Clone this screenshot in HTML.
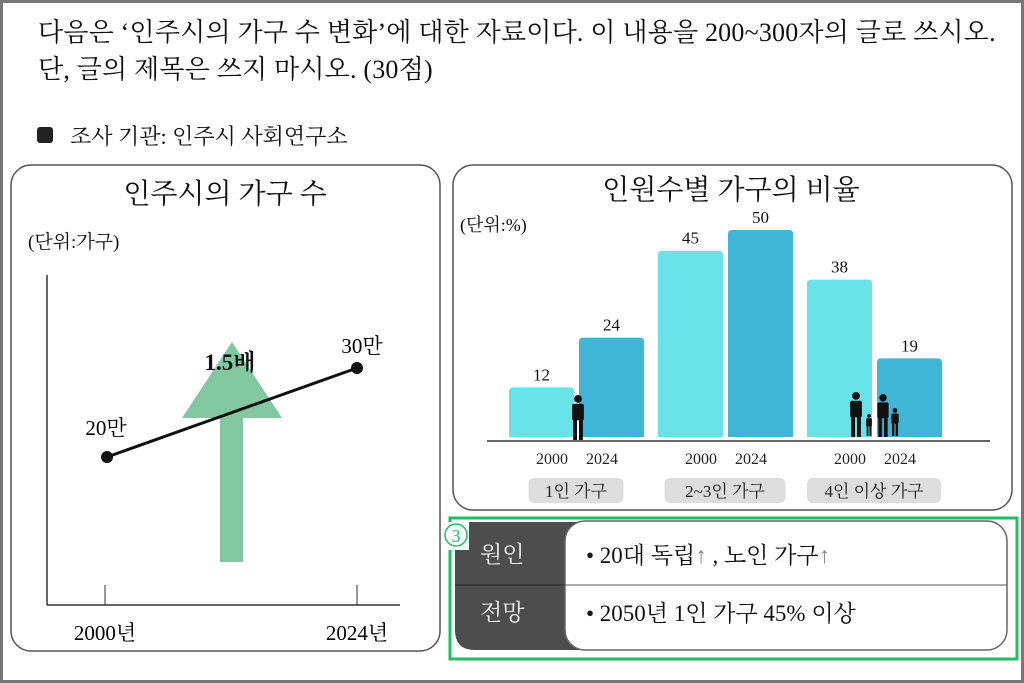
<!DOCTYPE html>
<html><head><meta charset="utf-8"><style>
body{margin:0;width:1024px;height:683px;overflow:hidden;background:#fff;font-family:"Liberation Serif","Noto Serif CJK KR","Noto Serif CJK SC",serif;}
#frame{position:absolute;left:0;top:0;width:1018px;height:677px;border:3px solid #777;}
.t{position:absolute;white-space:nowrap;color:#111;}
</style></head><body>
<div id="frame"></div>
<div class="t" style="left:38px;top:14px;font-size:26px;line-height:37px;letter-spacing:0.2px;">다음은 ‘인주시의 가구 수 변화’에 대한 자료이다. 이 내용을 200~300자의 글로 쓰시오.<br>단, 글의 제목은 쓰지 마시오. (30점)</div>
<div style="position:absolute;left:37px;top:127px;width:16px;height:16px;background:#222;border-radius:3px;"></div>
<div class="t" style="left:70px;top:120px;font-size:22px;">조사 기관: 인주시 사회연구소</div>

<svg width="1024" height="683" style="position:absolute;left:0;top:0" font-family="Liberation Serif, Noto Serif CJK KR, Noto Serif CJK SC, serif">
<g>
<rect x="11" y="165" width="429" height="486" rx="20" fill="#fff" stroke="#555" stroke-width="1.5"/>
<text x="225" y="203" font-size="28" text-anchor="middle" fill="#111">인주시의 가구 수</text>
<text x="28" y="248" font-size="19" fill="#111">(단위:가구)</text>
<line x1="47" y1="275" x2="47" y2="605" stroke="#333" stroke-width="1.5"/>
<line x1="47" y1="605" x2="400" y2="605" stroke="#333" stroke-width="1.5"/>
<line x1="105" y1="585" x2="105" y2="605" stroke="#333"/>
<line x1="357" y1="585" x2="357" y2="605" stroke="#333"/>
<text x="105" y="640" font-size="21" text-anchor="middle">2000년</text>
<text x="357" y="640" font-size="21" text-anchor="middle">2024년</text>
<polygon points="220,562 243,562 243,418 282,418 232,342 182,418 220,418" fill="#82c7a0"/>
<text x="230" y="370" font-size="23" font-weight="bold" text-anchor="middle" fill="#111">1.5배</text>
<line x1="107" y1="457" x2="357" y2="368" stroke="#111" stroke-width="3"/>
<circle cx="107" cy="457" r="6" fill="#111"/>
<circle cx="357" cy="368" r="6" fill="#111"/>
<text x="106" y="435" font-size="21" text-anchor="middle">20만</text>
<text x="362" y="353" font-size="21" text-anchor="middle">30만</text>
</g>
<g>
<rect x="453" y="165" width="559" height="345" rx="20" fill="#fff" stroke="#555" stroke-width="1.5"/>
<text x="731" y="199" font-size="28" text-anchor="middle" fill="#111">인원수별 가구의 비율</text>
<text x="460" y="231" font-size="18" fill="#111">(단위:%)</text>
<g id="bars"></g>
<line x1="487" y1="441" x2="990" y2="441" stroke="#333" stroke-width="1.5"/>
<g id="labels"></g>
</g>
<g>
<rect x="450" y="518" width="567" height="141" fill="none" stroke="#1dbf62" stroke-width="3"/>
<path d="M455,522 H590 V650 H475 Q455,650 455,630 Z" fill="#4d4d4d"/>
<line x1="455" y1="585" x2="570" y2="585" stroke="#222"/>
<rect x="565" y="521" width="442" height="129" rx="20" fill="#fff" stroke="#666" stroke-width="1.5"/>
<line x1="565" y1="585" x2="1007" y2="585" stroke="#555"/>
<rect x="443" y="522" width="26" height="28" fill="#fff"/>
<circle cx="456" cy="535" r="11" fill="none" stroke="#1dbf62" stroke-width="1.5"/>
<text x="456" y="542" font-size="18" text-anchor="middle" fill="#1dbf62">3</text>
<text x="480" y="562" font-size="23" fill="#eee">원인</text>
<text x="480" y="620" font-size="23" fill="#eee">전망</text>
<text x="586" y="563" font-size="23" fill="#111">• 20대 독립<tspan fill="#888">↑</tspan> , 노인 가구<tspan fill="#888">↑</tspan></text>
<text x="586" y="621" font-size="23" fill="#111">• 2050년 1인 가구 45% 이상</text>
</g>
</svg>
<script>
const categories=["1인 가구","2~3인 가구","4인 이상 가구"];
const years=["2000","2024"];
const values2000=[12,45,38];
const values2024=[24,50,19];
const NS="http://www.w3.org/2000/svg";
const base=437, scale=4.14;
const y=v=>base-v*scale;
const groupX=i=>509+i*149;
const barW=65;
const colors=["#6ae3e8","#40b6d6"];
const bars=document.getElementById('bars'), labels=document.getElementById('labels');
function mk(tag,attrs,parent){const e=document.createElementNS(NS,tag);for(const k in attrs)e.setAttribute(k,attrs[k]);parent.appendChild(e);return e;}
categories.forEach((c,i)=>{
  [values2000,values2024].forEach((arr,j)=>{
    const x=groupX(i)+j*(barW+5);
    const r=mk('path',{d:`M${x},${base} V${y(arr[i])+4} Q${x},${y(arr[i])} ${x+4},${y(arr[i])} H${x+barW-4} Q${x+barW},${y(arr[i])} ${x+barW},${y(arr[i])+4} V${base} Z`,fill:colors[j]},bars);
    
    
    const t=mk('text',{x:x+barW/2,y:y(arr[i])-7,'font-size':17,'text-anchor':'middle',fill:'#111'},bars);
    t.textContent=arr[i];
    
    
    const yl=mk('text',{x:groupX(i)+barW+2+(j?26:-24),y:464,'font-size':16,'text-anchor':'middle',fill:'#222'},labels);
    yl.textContent=years[j];
    
    
  });
  const cx=groupX(i)+barW+2;
  const w=c.length*13+30;
  const bg=mk('rect',{x:cx-w/2,y:478,width:w,height:25,rx:6,fill:'#ddd'},labels);
  
  
  const ct=mk('text',{x:cx,y:497,'font-size':17,'text-anchor':'middle',fill:'#222'},labels);
  ct.textContent=c;
  
  
});
function person(x,top,h){
  const g=mk('g',{fill:'#111'},bars);
  
  
  const s=h/46;
  mk('circle',{cx:x,cy:top+4*s,r:4*s},g);
  mk('rect',{x:x-6*s,y:top+9*s,width:12*s,height:17*s,rx:2*s},g);
  mk('rect',{x:x-5*s,y:top+24*s,width:4*s,height:22*s},g);
  mk('rect',{x:x+1*s,y:top+24*s,width:4*s,height:22*s},g);
}
person(578,395,45);person(856,392,45);person(869,414,22);person(883,394,43);person(895,408,28);
</script>
</body></html>
